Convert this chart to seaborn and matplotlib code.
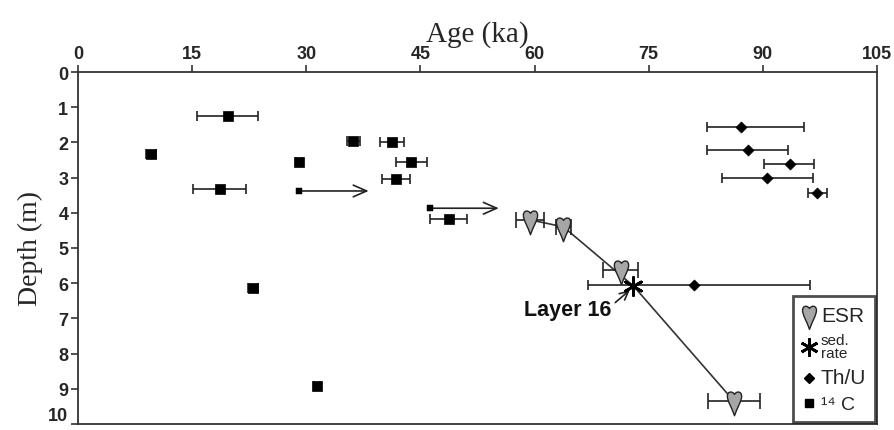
import numpy as np
import pandas as pd
import matplotlib
matplotlib.use("Agg")
import matplotlib.pyplot as plt
import seaborn as sns
from matplotlib.path import Path
from matplotlib.markers import MarkerStyle
from matplotlib.lines import Line2D

# ---------------- data ----------------
c14_age = [19.7, 9.6, 29.1, 36.2, 41.3, 43.8, 41.8, 18.6, 48.7, 23.0, 31.4]
c14_depth = [1.25, 2.33, 2.56, 1.96, 1.99, 2.56, 3.04, 3.32, 4.18, 6.14, 8.92]
c14_err = [4.0, 0.7, 0.4, 0.9, 1.6, 2.0, 1.8, 3.5, 2.4, 0.7, 0.4]

min_age = [29.0, 46.2]
min_depth = [3.38, 3.87]
min_arrow_end = [38.2, 55.3]

thu_age = [87.1, 88.0, 93.6, 90.5, 97.1, 81.0]
thu_depth = [1.56, 2.22, 2.61, 3.01, 3.44, 6.05]
thu_err_minus = [4.5, 5.4, 3.5, 5.9, 1.2, 14.0]
thu_err_plus = [8.3, 5.3, 3.1, 6.1, 1.3, 15.2]

esr_age = [59.4, 63.8, 71.3, 86.2]
esr_depth = [4.20, 4.40, 5.62, 9.35]
esr_err = [1.8, 1.0, 2.3, 3.4]

sed_age = [73.0]
sed_depth = [6.08]

model_age = [59.4, 63.8, 73.0, 86.2]
model_depth = [4.20, 4.40, 6.08, 9.35]

x_ticks = [0, 15, 30, 45, 60, 75, 90, 105]
y_ticks = [0, 1, 2, 3, 4, 5, 6, 7, 8, 9, 10]

# ---------------- style ----------------
sns.set_theme(style="white")
plt.rcParams["font.family"] = ["Liberation Sans", "DejaVu Sans"]

fig = plt.figure(figsize=(8.94, 4.31), dpi=100)
ax = fig.add_axes([78 / 894, 1 - 425 / 431, (877 - 78) / 894, (425 - 73) / 431])

# heart / tooth marker
verts = [
    (0.0, -1.0),
    (-0.18, -0.45), (-0.52, 0.05), (-0.50, 0.40),
    (-0.48, 0.72), (-0.15, 0.75), (0.0, 0.50),
    (0.15, 0.75), (0.48, 0.72), (0.50, 0.40),
    (0.52, 0.05), (0.18, -0.45), (0.0, -1.0),
    (0.0, -1.0),
]
codes = [Path.MOVETO] + [Path.CURVE4] * 12 + [Path.CLOSEPOLY]
heart = MarkerStyle(Path(verts, codes))

# age model line
model_df = pd.DataFrame({"age": model_age, "depth": model_depth})
sns.lineplot(data=model_df, x="age", y="depth", sort=False, color="#333333",
             linewidth=1.2, ax=ax, zorder=2)

# 14C
ax.errorbar(c14_age, c14_depth, xerr=c14_err, fmt="none", ecolor="#222222",
            elinewidth=1.2, capsize=3.3, capthick=1.2, zorder=3)
c14_df = pd.DataFrame({"age": c14_age, "depth": c14_depth})
sns.scatterplot(data=c14_df, x="age", y="depth", marker="s", s=45, color="black",
                edgecolor="black", linewidth=0.5, ax=ax, zorder=4)

# minimum ages with arrows
min_df = pd.DataFrame({"age": min_age, "depth": min_depth})
sns.scatterplot(data=min_df, x="age", y="depth", marker="s", s=18, color="black",
                edgecolor="black", ax=ax, zorder=4)
for a0, a1, d in zip(min_age, min_arrow_end, min_depth):
    ax.annotate("", xy=(a1, d), xytext=(a0, d),
                arrowprops=dict(arrowstyle="->,head_length=0.8,head_width=0.35",
                                color="#222222", lw=1.2, shrinkA=0, shrinkB=0),
                zorder=3)

# Th/U
ax.errorbar(thu_age, thu_depth, xerr=[thu_err_minus, thu_err_plus], fmt="none",
            ecolor="#222222", elinewidth=1.2, capsize=3.3, capthick=1.2, zorder=3)
thu_df = pd.DataFrame({"age": thu_age, "depth": thu_depth})
sns.scatterplot(data=thu_df, x="age", y="depth", marker="D", s=32, color="black",
                edgecolor="black", ax=ax, zorder=4)

# ESR
ax.errorbar(esr_age, esr_depth, xerr=esr_err, fmt="none", ecolor="#222222",
            elinewidth=1.2, capsize=5.5, capthick=1.2, zorder=3)
esr_df = pd.DataFrame({"age": esr_age, "depth": esr_depth})
sns.scatterplot(data=esr_df, x="age", y="depth", marker=heart, s=420,
                color="#a6a6a6", edgecolor="#222222", linewidth=1.0, ax=ax, zorder=5)

# sedimentation rate point
sed_df = pd.DataFrame({"age": sed_age, "depth": sed_depth})
sns.scatterplot(data=sed_df, x="age", y="depth", marker=(6, 2, 0), s=170,
                color="black", edgecolor="black", linewidth=2.0, ax=ax, zorder=6)

# Layer 16 annotation
ax.text(58.6, 6.76, "Layer 16", fontsize=15.5, fontweight="bold", ha="left",
        va="center", color="#111111")
ax.annotate("", xy=(sed_age[0] - 0.5, sed_depth[0] + 0.12), xytext=(70.6, 6.55),
            arrowprops=dict(arrowstyle="->,head_length=0.5,head_width=0.25",
                            color="#222222", lw=1.2, shrinkA=0, shrinkB=0))

# axes
ax.set_xlim(0, 105)
ax.set_ylim(10, 0)
ax.set_xticks(x_ticks)
ax.set_yticks(y_ticks)
ax.xaxis.tick_top()
ax.xaxis.set_label_position("top")
ax.tick_params(axis="both", which="major", direction="out", length=5, width=1.2,
               color="#333333", labelsize=13, pad=2, bottom=False, top=True, left=True)
for lbl in ax.get_xticklabels() + ax.get_yticklabels():
    lbl.set_fontweight("bold")
# keep the last depth label inside the picture
ylabels = ax.get_yticklabels()
ylabels[-1].set_verticalalignment("bottom")
ax.set_xlabel("Age (ka)", fontsize=21, family=["Liberation Serif", "DejaVu Serif"],
              labelpad=3)
ax.set_ylabel("Depth (m)", fontsize=20, family=["Liberation Serif", "DejaVu Serif"],
              labelpad=4)
for sp in ax.spines.values():
    sp.set_visible(True)
    sp.set_color("#333333")
    sp.set_linewidth(1.3)

# legend
handles = [
    Line2D([], [], linestyle="none", marker=heart, markersize=20,
           markerfacecolor="#a6a6a6", markeredgecolor="#222222"),
    Line2D([], [], linestyle="none", marker=(6, 2, 0), markersize=13,
           markeredgewidth=2.0, color="black"),
    Line2D([], [], linestyle="none", marker="D", markersize=5, color="black"),
    Line2D([], [], linestyle="none", marker="s", markersize=6, color="black"),
]
labels = ["ESR", "sed.\nrate", "Th/U", "\u00b9\u2074 C"]
leg = ax.legend(handles, labels, loc="lower right", bbox_to_anchor=(0.998, 0.006),
                frameon=True, fancybox=False, handlelength=0.8, handletextpad=0.4,
                borderpad=0.6, labelspacing=0.55, borderaxespad=0)
leg.get_frame().set_edgecolor("#222222")
leg.get_frame().set_linewidth(2.0)
for t, fs in zip(leg.get_texts(), [15, 11, 15, 14]):
    t.set_fontsize(fs)
    t.set_linespacing(0.9)

fig.savefig("out.png", dpi=100)
